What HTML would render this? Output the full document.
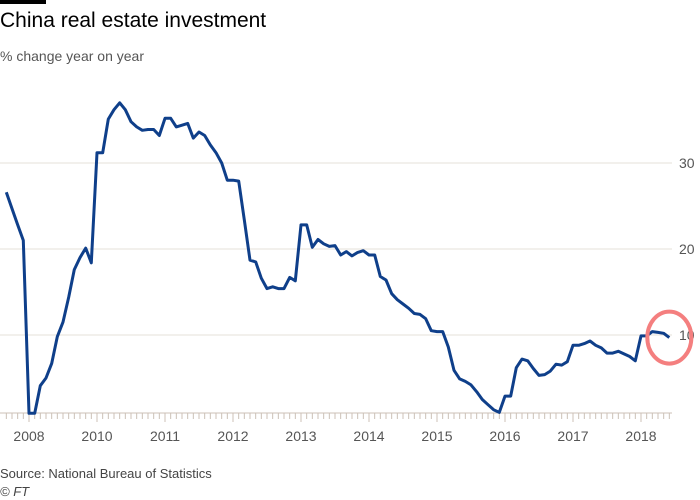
<!DOCTYPE html>
<html><head><meta charset="utf-8"><style>
body{margin:0;background:#fff;font-family:"Liberation Sans",sans-serif;}
#wrap{position:relative;width:700px;height:500px;overflow:hidden;background:#fff;}
.t{position:absolute;left:0;white-space:nowrap;}
</style></head><body>
<div id="wrap">
<div style="position:absolute;left:0;top:0;width:46px;height:4px;background:#000"></div>
<div class="t" style="top:9px;font-size:21px;color:#000">China real estate investment</div>
<div class="t" style="top:48px;font-size:14px;color:#555">% change year on year</div>
<svg id="plot" width="700" height="500" style="position:absolute;left:0;top:0"></svg>
<div class="t" style="top:466px;font-size:13px;color:#444">Source: National Bureau of Statistics</div>
<div class="t" style="top:484px;font-size:13px;color:#444;font-style:italic">© FT</div>
</div>
<script>
const values=[26.6,24.7,22.8,21.0,0.9,0.9,4.1,5.0,6.7,9.8,11.5,14.4,17.6,19.0,20.1,18.4,31.2,31.2,35.1,36.2,37.0,36.2,34.8,34.2,33.8,33.9,33.9,33.2,35.2,35.2,34.2,34.4,34.6,32.9,33.6,33.2,32.1,31.2,30.0,28.0,28.0,27.9,23.4,18.7,18.5,16.6,15.4,15.6,15.4,15.4,16.7,16.3,22.8,22.8,20.2,21.1,20.6,20.3,20.4,19.3,19.7,19.2,19.6,19.8,19.3,19.3,16.8,16.4,14.8,14.1,13.6,13.1,12.5,12.4,11.9,10.5,10.4,10.4,8.6,5.9,4.9,4.6,4.2,3.4,2.5,1.9,1.3,1.0,2.9,2.9,6.2,7.2,7.0,6.1,5.3,5.4,5.8,6.6,6.5,6.9,8.8,8.8,9.0,9.3,8.8,8.5,7.9,7.9,8.1,7.8,7.5,7.0,9.9,9.9,10.4,10.3,10.2,9.7];
const yTicks=[10,20,30];
const yearLabels=["2008","2010","2011","2012","2013","2014","2015","2016","2017","2018"];
const yearStartIndex=[4,16,28,40,52,64,76,88,100,112];

const NS="http://www.w3.org/2000/svg";
const svg=document.getElementById('plot');
const xS=i=>29+(i-4)*(68/12);
const yS=v=>335-(v-10)*8.6;
const baseY=413;
function mk(tag,attrs){const e=document.createElementNS(NS,tag);for(const k in attrs)e.setAttribute(k,attrs[k]);svg.appendChild(e);return e;}
yTicks.forEach(v=>{
  const g=mk('line',{x1:0,x2:672,y1:yS(v),y2:yS(v),stroke:'#e6e0da','stroke-width':1});
  
  
  const t=mk('text',{x:679,y:yS(v)+5,'font-size':14,fill:'#555','font-family':'Liberation Sans, sans-serif'});
  t.textContent=v;
  
  
});
const bl=mk('line',{x1:0,x2:672,y1:baseY,y2:baseY,stroke:'#ccc1b7','stroke-width':1});


for(let i=0;i<values.length;i++){
  const major=yearStartIndex.includes(i);
  const tk=mk('line',{x1:xS(i),x2:xS(i),y1:baseY,y2:baseY+(major?9:6),stroke:'#ccc1b7','stroke-width':1});
  
  
}
yearLabels.forEach((l,k)=>{
  const t=mk('text',{x:xS(yearStartIndex[k]),y:441,'font-size':14,fill:'#555','text-anchor':'middle','font-family':'Liberation Sans, sans-serif'});
  t.textContent=l;
  
  
});
const d=values.map((v,i)=>(i?'L':'M')+xS(i).toFixed(1)+','+yS(v).toFixed(1)).join('');
const p=mk('path',{d:d,fill:'none',stroke:'#0f3f8a','stroke-width':3,'stroke-linejoin':'round'});


const last=values.length-1;
const c=mk('ellipse',{cx:xS(last),cy:yS(values[last]),rx:22,ry:26,fill:'none',stroke:'#f47f7f','stroke-width':4});


</script>
</body></html>
